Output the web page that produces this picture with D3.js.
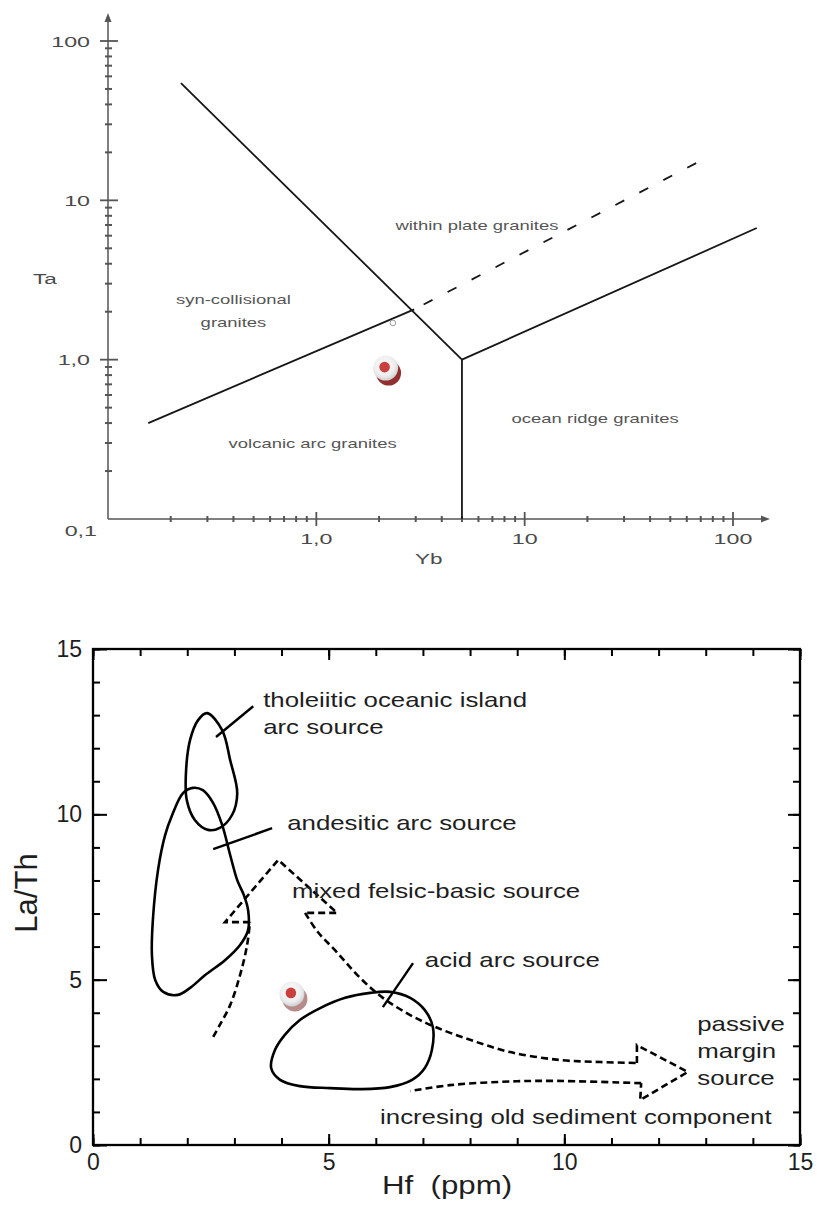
<!DOCTYPE html>
<html>
<head>
<meta charset="utf-8">
<script src="https://cdn.jsdelivr.net/npm/d3@7"></script>
<style>
body{margin:0;background:#fff;}
svg{display:block;font-family:"Liberation Sans",Arial,sans-serif;}
</style>
</head>
<body>
<svg id="chart" width="817" height="1205"></svg>
<script>
//----------------------------------------------------------- DATA : Yb - Ta (log / log)
var ybTickValues = [1, 10, 100];
var ybTickLabels = ["1,0", "10", "100"];
var taTickValues = [0.1, 1, 10, 100];
var taTickLabels = ["0,1", "1,0", "10", "100"];

// field boundaries [Yb, Ta]
var boundarySolid = [
	[[0.224, 54.4], [5, 1]],
	[[5, 1], [5, 0.1]],
	[[5, 1], [130, 6.7]],
	[[0.156, 0.40], [2.95, 2.07]]
];
var boundaryDashed = [[2.91, 2.05], [77.6, 19.0]];

var fieldNames = [["within plate granites"], ["syn-collisional", "granites"], ["volcanic arc granites"], ["ocean ridge granites"]];
var fieldYb = [5.9, 0.40, 0.96, 21.8];
var fieldTa = [7.0, 2.4, 0.296, 0.425];

var sampleYb = [2.15];
var sampleTa = [0.885];
var ringYb = [2.33];
var ringTa = [1.70];

//----------------------------------------------------------- DATA : Hf - La/Th
var hfTicks = [0, 5, 10, 15];
var laThTicks = [0, 5, 10, 15];

// closed source fields [Hf, La/Th]
var tholeiiticField = [[2.42,13.06],[2.74,12.55],[2.91,11.64],[3.06,10.64],[2.95,9.98],[2.69,9.59],[2.44,9.53],[2.16,9.83],[1.99,10.43],[1.97,11.19],[2.06,12.25],[2.23,12.85]];
var andesiticField = [[1.91,10.64],[2.12,10.80],[2.33,10.73],[2.55,10.34],[2.74,9.68],[2.91,8.77],[3.06,8.01],[3.20,7.56],[3.29,7.11],[3.29,6.50],[3.12,6.05],[2.80,5.59],[2.38,5.14],[2.06,4.75],[1.80,4.54],[1.49,4.63],[1.32,4.99],[1.25,5.75],[1.27,6.80],[1.38,8.32],[1.53,9.37],[1.68,9.98]];
var acidField = [[3.78,2.33],[3.86,2.87],[4.07,3.33],[4.39,3.78],[4.82,4.14],[5.35,4.45],[5.88,4.60],[6.30,4.63],[6.73,4.45],[7.04,4.08],[7.21,3.57],[7.19,2.87],[7.04,2.33],[6.77,1.97],[6.30,1.75],[5.67,1.69],[5.03,1.72],[4.39,1.78],[3.97,1.97]];

// leader lines
var leaders = [
	[[2.61,12.34],[3.40,13.27]],
	[[2.55,8.95],[3.80,9.58]],
	[[6.15,4.17],[6.79,5.50]]
];

// dashed trend arrows
var mixedShaft = [[2.55,3.27],[2.69,3.63],[2.91,4.23],[3.12,5.14],[3.27,6.05],[3.33,6.74]];
var mixedHead = [[3.33,6.74],[2.80,6.74],[3.93,8.62],[5.18,7.02],[4.50,7.02]];
var passiveUpper = [[4.50,7.02],[4.77,6.44],[5.13,5.90],[5.67,5.05],[6.15,4.45],[6.73,3.93],[7.26,3.57],[8.00,3.18],[8.85,2.81],[9.91,2.57],[10.76,2.51],[11.54,2.48]];
var passiveHead = [[11.54,2.48],[11.54,3.02],[12.62,2.21],[11.61,1.36],[11.63,1.87]];
var passiveLower = [[11.63,1.87],[9.70,1.94],[8.64,1.91],[7.57,1.81],[6.73,1.63]];

var sourceNames = [["tholeiitic oceanic island", "arc source"], ["andesitic arc source"], ["mixed felsic-basic source"], ["acid arc source"], ["passive", "margin", "source"], ["incresing old sediment component"]];
var sourceHf = [3.61, 4.12, 4.22, 7.04, 12.82, 6.09];
var sourceLaTh = [13.24, 9.53, 7.47, 5.38, 3.45, 0.635];

var sampleHf = [4.22];
var sampleLaTh = [4.57];

//----------------------------------------------------------- SVG
var svg = d3.select("#chart");
svg.append("rect").attr("width", 817).attr("height", 1205).attr("fill", "#fff");

var defs = svg.append("defs");
var grad = defs.append("radialGradient").attr("id", "markGrad").attr("cx", "45%").attr("cy", "40%").attr("r", "60%");
grad.append("stop").attr("offset", "0%").attr("stop-color", "#ffffff");
grad.append("stop").attr("offset", "70%").attr("stop-color", "#ededed");
grad.append("stop").attr("offset", "100%").attr("stop-color", "#cfcfcf");

function marker(g, cx, cy, shadow) {
	g.append("circle").attr("cx", cx + 3).attr("cy", cy + 5).attr("r", 12.5).attr("fill", shadow);
	g.append("circle").attr("cx", cx).attr("cy", cy).attr("r", 12.5).attr("fill", "url(#markGrad)");
	g.append("circle").attr("cx", cx - 1).attr("cy", cy - 1).attr("r", 5.3).attr("fill", "#c9403e");
}

// text drawn a little wider than the font, as in the scanned figure
function wideText(g, x, y, str, size, sx, anchor) {
	return g.append("text")
		.attr("transform", "translate(" + x + "," + y + ") scale(" + sx + ",1)")
		.attr("font-size", size)
		.attr("text-anchor", anchor || "start")
		.text(str);
}

//----------------------------------------------------------- TOP : Yb - Ta
var xTop = d3.scaleLog().domain([0.1, 100]).range([108, 733]);
var yTop = d3.scaleLog().domain([0.1, 100]).range([519, 41]);
var gTop = svg.append("g");
var axisColor = "#555";

function isDecade(d) {
	var l = Math.log10(d);
	return Math.abs(l - Math.round(l)) < 1e-6 && d > 0.1;
}

gTop.append("line").attr("x1", 108).attr("x2", 764).attr("y1", 519).attr("y2", 519)
	.attr("stroke", axisColor).attr("stroke-width", 1.5);
gTop.append("line").attr("x1", 108).attr("x2", 108).attr("y1", 519).attr("y2", 19)
	.attr("stroke", axisColor).attr("stroke-width", 1.5);
gTop.append("path").attr("d", "M770,519 l-9,-3.5 v7 z").attr("fill", axisColor);
gTop.append("path").attr("d", "M108,13 l-3.5,9 h7 z").attr("fill", axisColor);

gTop.selectAll("line.xt").data(xTop.ticks().filter(d => d > 0.1)).join("line")
	.attr("class", "xt")
	.attr("x1", d => xTop(d)).attr("x2", d => xTop(d))
	.attr("y1", d => isDecade(d) ? 512 : 516).attr("y2", d => isDecade(d) ? 526 : 522)
	.attr("stroke", axisColor).attr("stroke-width", d => isDecade(d) ? 1.8 : 2);
gTop.selectAll("line.yt").data(yTop.ticks().filter(d => d > 0.1)).join("line")
	.attr("class", "yt")
	.attr("y1", d => yTop(d)).attr("y2", d => yTop(d))
	.attr("x1", d => isDecade(d) ? 100 : 105).attr("x2", d => isDecade(d) ? 118 : 112)
	.attr("stroke", axisColor).attr("stroke-width", d => isDecade(d) ? 1.8 : 2);

var tickText = gTop.append("g").attr("fill", "#4a4a4a");
ybTickValues.forEach(function(v, i) {
	wideText(tickText, xTop(v), 544, ybTickLabels[i], 15, 1.55, "middle");
});
taTickValues.forEach(function(v, i) {
	if (v === 0.1) {
		wideText(tickText, 97, 536, taTickLabels[i], 15, 1.55, "end");
	} else {
		wideText(tickText, 90, yTop(v) + 5.5, taTickLabels[i], 15, 1.55, "end");
	}
});
wideText(tickText, 33, 284, "Ta", 15, 1.5);
wideText(tickText, 415, 564, "Yb", 15, 1.5);

var lineTop = d3.line().x(d => xTop(d[0])).y(d => yTop(d[1]));
gTop.selectAll("path.bound").data(boundarySolid).join("path")
	.attr("class", "bound")
	.attr("d", lineTop)
	.attr("fill", "none").attr("stroke", "#161616").attr("stroke-width", 1.8);
gTop.append("path").attr("d", lineTop(boundaryDashed))
	.attr("fill", "none").attr("stroke", "#161616").attr("stroke-width", 1.8)
	.attr("stroke-dasharray", "10,17").attr("stroke-dashoffset", -12);

var fieldText = gTop.append("g").attr("fill", "#555");
fieldNames.forEach(function(lines, i) {
	lines.forEach(function(s, j) {
		wideText(fieldText, xTop(fieldYb[i]), yTop(fieldTa[i]) + 4.5 + j * 23, s, 13, 1.42, "middle");
	});
});

gTop.append("circle").attr("cx", xTop(ringYb[0])).attr("cy", yTop(ringTa[0])).attr("r", 2.8)
	.attr("fill", "none").attr("stroke", "#999").attr("stroke-width", 1);
sampleYb.forEach(function(v, i) {
	marker(gTop, xTop(v), yTop(sampleTa[i]), "#922f2f");
});

//----------------------------------------------------------- BOTTOM : Hf - La/Th
var xBot = d3.scaleLinear().domain([0, 15]).range([93, 800]);
var yBot = d3.scaleLinear().domain([0, 15]).range([1145, 649]);
var gBot = svg.append("g");

function styleAxis(g) {
	g.select(".domain").remove();
	g.selectAll(".tick line").attr("stroke", "#000").attr("stroke-width", 2);
	g.selectAll(".tick text").attr("font-size", 23).attr("fill", "#1e1e1e")
		.attr("font-family", "Liberation Sans, Arial, sans-serif");
}

gBot.append("g").attr("transform", "translate(0,1145)")
	.call(d3.axisBottom(xBot).ticks(15).tickSize(-7).tickFormat("")).call(styleAxis);
gBot.append("g").attr("transform", "translate(0,1145)")
	.call(d3.axisBottom(xBot).tickValues(hfTicks).tickSize(-11).tickPadding(9).tickFormat(d3.format("d"))).call(styleAxis);
gBot.append("g").attr("transform", "translate(0,649)")
	.call(d3.axisTop(xBot).ticks(15).tickSize(-7).tickFormat("")).call(styleAxis);
gBot.append("g").attr("transform", "translate(0,649)")
	.call(d3.axisTop(xBot).tickValues(hfTicks).tickSize(-11).tickFormat("")).call(styleAxis);
gBot.append("g").attr("transform", "translate(93,0)")
	.call(d3.axisLeft(yBot).ticks(15).tickSize(-7).tickFormat("")).call(styleAxis);
gBot.append("g").attr("transform", "translate(93,0)")
	.call(d3.axisLeft(yBot).tickValues(laThTicks).tickSize(-14).tickPadding(11).tickFormat(d3.format("d"))).call(styleAxis);
gBot.append("g").attr("transform", "translate(800,0)")
	.call(d3.axisRight(yBot).ticks(15).tickSize(-7).tickFormat("")).call(styleAxis);
gBot.append("g").attr("transform", "translate(800,0)")
	.call(d3.axisRight(yBot).tickValues(laThTicks).tickSize(-12).tickFormat("")).call(styleAxis);

gBot.append("rect").attr("x", 93).attr("y", 649).attr("width", 707).attr("height", 496)
	.attr("fill", "none").attr("stroke", "#000").attr("stroke-width", 2.3);

var closedLine = d3.line().x(d => xBot(d[0])).y(d => yBot(d[1])).curve(d3.curveCatmullRomClosed);
var openCurve = d3.line().x(d => xBot(d[0])).y(d => yBot(d[1])).curve(d3.curveCatmullRom);
var straight = d3.line().x(d => xBot(d[0])).y(d => yBot(d[1]));

gBot.selectAll("path.field").data([tholeiiticField, andesiticField, acidField]).join("path")
	.attr("class", "field")
	.attr("d", closedLine)
	.attr("fill", "none").attr("stroke", "#000").attr("stroke-width", 2.6);
gBot.selectAll("path.leader").data(leaders).join("path")
	.attr("class", "leader")
	.attr("d", straight)
	.attr("fill", "none").attr("stroke", "#000").attr("stroke-width", 2.4);

var dashed = gBot.append("g").attr("fill", "none").attr("stroke", "#000")
	.attr("stroke-width", 2.6).attr("stroke-dasharray", "7,4");
dashed.append("path").attr("d", openCurve(mixedShaft));
dashed.append("path").attr("d", straight(mixedHead));
dashed.append("path").attr("d", openCurve(passiveUpper));
dashed.append("path").attr("d", straight(passiveHead));
dashed.append("path").attr("d", openCurve(passiveLower));

var srcText = gBot.append("g").attr("fill", "#1e1e1e");
sourceNames.forEach(function(lines, i) {
	lines.forEach(function(s, j) {
		wideText(srcText, xBot(sourceHf[i]), yBot(sourceLaTh[i]) + j * 27, s, 21, 1.23);
	});
});

sampleHf.forEach(function(v, i) {
	marker(gBot, xBot(v), yBot(sampleLaTh[i]), "#b88b8b");
});

wideText(gBot, 382, 1194, "Hf\u00a0\u00a0(ppm)", 25, 1.25).attr("fill", "#1e1e1e");
gBot.append("text")
	.attr("transform", "translate(37,893) rotate(-90)")
	.attr("text-anchor", "middle")
	.attr("font-size", 31)
	.attr("fill", "#1e1e1e")
	.text("La/Th");
</script>
</body>
</html>
